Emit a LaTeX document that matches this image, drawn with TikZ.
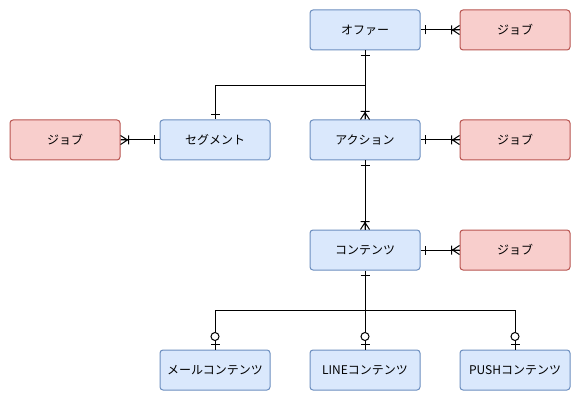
\documentclass[tikz,border=0pt]{standalone}
\usepackage{fontspec}
\setmainfont{Noto Sans CJK JP}
\definecolor{bluefill}{HTML}{DAE8FC}
\definecolor{blueline}{HTML}{6C8EBF}
\definecolor{redfill}{HTML}{F8CECC}
\definecolor{redline}{HTML}{B85450}
% ER end marks
\pgfdeclarearrow{
	name = erone,
	setup code = {\pgfarrowssettipend{0pt}\pgfarrowssetlineend{0pt}\pgfarrowssetbackend{-6pt}},
	drawing code = {
		\pgfpathmoveto{\pgfqpoint{-5pt}{4.5pt}}\pgfpathlineto{\pgfqpoint{-5pt}{-4.5pt}}
		\pgfusepathqstroke
	}
}
\pgfdeclarearrow{
	name = ermany,
	setup code = {\pgfarrowssettipend{0pt}\pgfarrowssetlineend{0pt}\pgfarrowssetbackend{-9pt}},
	drawing code = {
		\pgfpathmoveto{\pgfqpoint{-8pt}{4.5pt}}\pgfpathlineto{\pgfqpoint{-8pt}{-4.5pt}}
		\pgfpathmoveto{\pgfqpoint{0pt}{4.5pt}}\pgfpathlineto{\pgfqpoint{-7pt}{0pt}}\pgfpathlineto{\pgfqpoint{0pt}{-4.5pt}}
		\pgfpathmoveto{\pgfqpoint{-7pt}{0pt}}\pgfpathlineto{\pgfqpoint{0pt}{0pt}}
		\pgfusepathqstroke
	}
}
\pgfdeclarearrow{
	name = erzeroone,
	setup code = {\pgfarrowssettipend{0pt}\pgfarrowssetlineend{0pt}\pgfarrowssetbackend{-17pt}},
	drawing code = {
		\pgfpathmoveto{\pgfqpoint{-5pt}{4.5pt}}\pgfpathlineto{\pgfqpoint{-5pt}{-4.5pt}}
		\pgfusepathqstroke
		\pgfsetfillcolor{white}
		\pgfpathcircle{\pgfqpoint{-13pt}{0pt}}{4pt}
		\pgfusepathqfillstroke
	}
}
\tikzset{
	entity/.style={draw=blueline,fill=bluefill,rounded corners=3pt,minimum width=110pt,minimum height=40pt,font=\fontsize{12}{14}\selectfont},
	job/.style={entity,draw=redline,fill=redfill},
}
\begin{document}
\begin{tikzpicture}[x=1pt,y=-1pt,line width=1pt]
		\useasboundingbox (0,0) rectangle (581,401);
		\node[entity] (offer) at (365,30) {オファー};
		\node[entity] (segment) at (215,140) {セグメント};
		\node[entity] (action) at (365,140) {アクション};
		\node[entity] (contents) at (365,250) {コンテンツ};
		\node[entity] (mail) at (215,370) {メールコンテンツ};
		\node[entity] (line) at (365,370) {LINEコンテンツ};
		\node[entity] (push) at (515,370) {PUSHコンテンツ};
		\node[job] (jobA) at (515,30) {ジョブ};
		\node[job] (jobB) at (65,140) {ジョブ};
		\node[job] (jobC) at (515,140) {ジョブ};
		\node[job] (jobD) at (515,250) {ジョブ};
		\coordinate (fork) at (365,85.5);
		\coordinate (split) at (365,310.5);
		\foreach \a/\b in {offer/jobA,segment/jobB,action/jobC,contents/jobD,offer/action,action/contents}{
			\draw[erone-ermany] (\a) -- (\b);
		}
		\draw[-erone] (fork) -| (segment.north);
		\draw[erone-] (contents.south) -- (split);
		\foreach \c in {mail,line,push}{
			\draw[-erzeroone] (split) -| (\c.north);
		}
	\end{tikzpicture}
\end{document}
